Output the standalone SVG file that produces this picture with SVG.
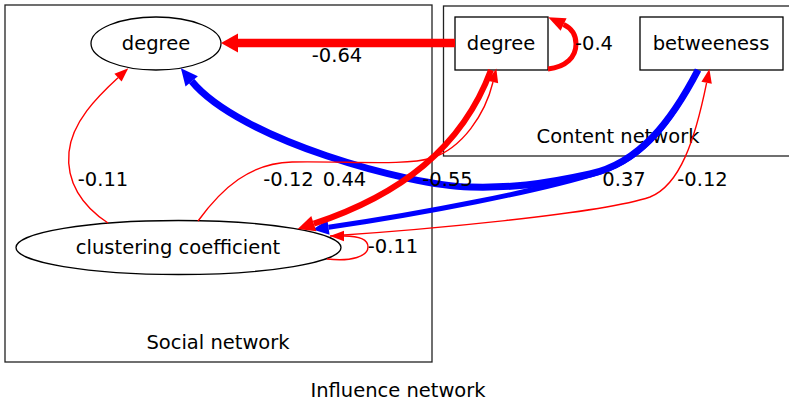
<svg xmlns="http://www.w3.org/2000/svg" width="789" height="403" viewBox="0 0 789 403">
<style>
text{font-family:"DejaVu Sans","Liberation Sans",sans-serif;font-size:19.5px;fill:#000;text-anchor:middle}
.cl{fill:none;stroke:#222;stroke-width:1.3}
.nd{fill:#fff;stroke:#000;stroke-width:1.3}
.e{fill:none}
.r{stroke:#f00}
.b{stroke:#00f}
</style>
<defs>
<marker id="aRs" markerUnits="userSpaceOnUse" markerWidth="20" markerHeight="20" viewBox="0 -10 20 20" refX="0" refY="0" orient="auto" overflow="visible"><path d="M0,-5.3L14,0L0,5.3z" fill="#f00"/></marker>
<marker id="aR64" markerUnits="userSpaceOnUse" markerWidth="20" markerHeight="20" viewBox="0 -10 20 20" refX="0" refY="0" orient="auto" overflow="visible"><path d="M0,-9.5L17,0L0,9.5z" fill="#f00"/></marker>
<marker id="aR44" markerUnits="userSpaceOnUse" markerWidth="20" markerHeight="20" viewBox="0 -10 20 20" refX="0" refY="0" orient="auto" overflow="visible"><path d="M0,-8L17,0L0,8z" fill="#f00"/></marker>
<marker id="aR40" markerUnits="userSpaceOnUse" markerWidth="20" markerHeight="20" viewBox="0 -10 20 20" refX="0" refY="0" orient="auto" overflow="visible"><path d="M0,-7L17,0L0,7z" fill="#f00"/></marker>
<marker id="aB55" markerUnits="userSpaceOnUse" markerWidth="20" markerHeight="20" viewBox="0 -10 20 20" refX="0" refY="0" orient="auto" overflow="visible"><path d="M0,-8L17,0L0,8z" fill="#00f"/></marker>
<marker id="aB37" markerUnits="userSpaceOnUse" markerWidth="20" markerHeight="20" viewBox="0 -10 20 20" refX="0" refY="0" orient="auto" overflow="visible"><path d="M0,-7.5L16,0L0,7.5z" fill="#00f"/></marker>
</defs>
<rect width="789" height="403" fill="#fff"/>
<g id="cluster-social">
<rect class="cl" x="5" y="5" width="427" height="357"/>
<text x="218" y="349">Social network</text>
</g>
<g id="cluster-content">
<rect class="cl" x="443.5" y="6" width="360" height="150"/>
<text x="618" y="143">Content network</text>
</g>
<text id="graph-label" x="398" y="397">Influence network</text>
<g id="node-social-degree">
<ellipse class="nd" cx="156" cy="43.5" rx="65" ry="26.5"/>
<text x="156" y="50">degree</text>
</g>
<g id="node-clustering">
<ellipse class="nd" cx="178.5" cy="247.5" rx="162.5" ry="27"/>
<text x="178" y="253.5">clustering coefficient</text>
</g>
<g id="node-content-degree">
<rect class="nd" x="455" y="17" width="93" height="53"/>
<text x="501" y="49.5">degree</text>
</g>
<g id="node-betweeness">
<rect class="nd" x="640" y="17" width="143" height="53"/>
<text x="711" y="49.5">betweeness</text>
</g>
<g id="edges">
<path class="e r" stroke-width="8.5" d="M455,43L238,43" marker-end="url(#aR64)"/>
<path class="e r" stroke-width="5" d="M548,69C566,67 576,57 576,44C576,34 571,28 563.6,24.5" marker-end="url(#aR40)"/>
<path class="e b" stroke-width="7" d="M698,70C672,120 640,163 590,174C540,185 510,188 470,187C410,186 240,140 191.7,81.3" marker-end="url(#aB55)"/>
<path class="e b" stroke-width="5" d="M698,70C672,120 645,158 600,172C540,191 420,214 328.5,227.3" marker-end="url(#aB37)"/>
<path class="e r" stroke-width="6" d="M491,70C462,148 400,195 313.8,223.7" marker-end="url(#aR44)"/>
<path class="e r" stroke-width="1.4" d="M198,221C222,188 250,163 292,162C350,161 405,166 432,158C462,148 485,115 493,82" marker-end="url(#aRs)"/>
<path class="e r" stroke-width="1.4" d="M108,223C82,206 66,182 69,152C72,122 97,97 118,77.7" marker-end="url(#aRs)"/>
<path class="e r" stroke-width="1.4" d="M327,259C352,262 368,256 368,247C368,239 358,236 344,236" marker-end="url(#aRs)"/>
<path class="e r" stroke-width="1.4" d="M330,236C420,230 600,214 650,197C680,185 695,140 706.6,82.8" marker-end="url(#aRs)"/>
<text x="337" y="62">-0.64</text>
<text x="594" y="49.5">-0.4</text>
<text x="103" y="186">-0.11</text>
<text x="288.5" y="186">-0.12</text>
<text x="344.5" y="186">0.44</text>
<text x="447.5" y="186">-0.55</text>
<text x="624" y="186">0.37</text>
<text x="702.5" y="186">-0.12</text>
<text x="393" y="253">-0.11</text>
</g>
</svg>
